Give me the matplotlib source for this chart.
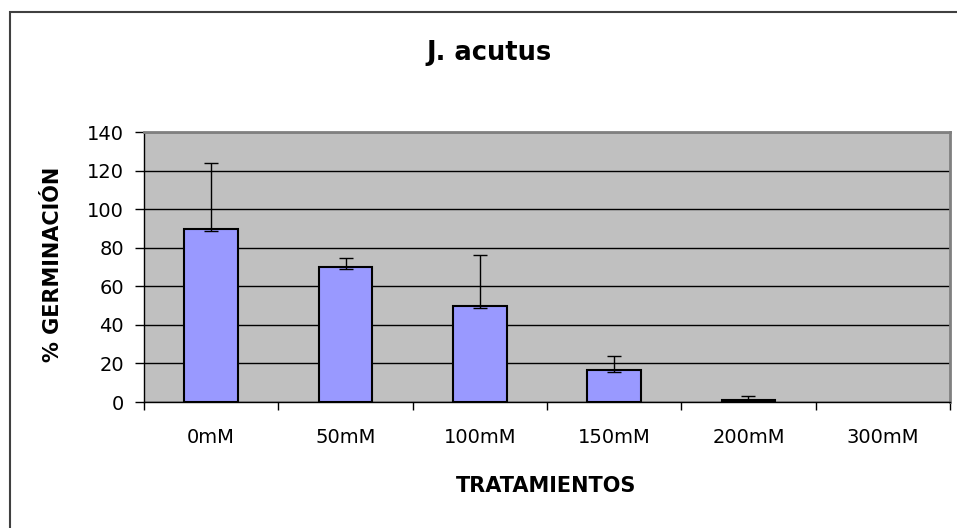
import matplotlib
matplotlib.use("Agg")
import matplotlib.pyplot as plt
from matplotlib.patches import Rectangle
import numpy as np

categories = ["0mM", "50mM", "100mM", "150mM", "200mM", "300mM"]
values = [89.5, 69.8, 50.0, 16.7, 1.2, 0.0]
err_plus = [34.4, 5.0, 26.0, 7.3, 1.9, 0.0]
err_minus = [1.0, 1.0, 1.0, 1.0, 0.0, 0.0]
yticks = [0, 20, 40, 60, 80, 100, 120, 140]

plt.rcParams['font.family'] = ['DejaVu Sans']

W, H = 957, 528
fig = plt.figure(figsize=(W / 100, H / 100), dpi=100)
fig.patch.set_facecolor('white')

# outer chart frame
fig.patches.append(Rectangle((10 / W, -0.1), 2, (H - 12) / H + 0.1,
                             transform=fig.transFigure, fill=False,
                             edgecolor='#404040', linewidth=1.5, zorder=0))

left, right, top, bottom = 144, 950, 132, 402
ax = fig.add_axes([left / W, 1 - bottom / H, (right - left) / W, (bottom - top) / H])
ax.set_facecolor('#c0c0c0')

x = np.arange(len(categories))
edge = ['black' if v > 0 else 'none' for v in values]
ax.bar(x, values, width=0.4, color='#9999ff', edgecolor=edge, linewidth=1.5, zorder=3)
ax.errorbar(x[:5], values[:5], yerr=[err_minus[:5], err_plus[:5]], fmt='none',
            ecolor='black', elinewidth=1, capsize=5, capthick=1, zorder=4)

ax.set_xlim(-0.5, len(categories) - 0.5)
ax.set_ylim(0, 140)
ax.set_yticks(yticks)
ax.set_yticklabels([str(v) for v in yticks], fontsize=14)
ax.yaxis.grid(True, color='black', linewidth=1)
ax.set_axisbelow(True)

ax.set_xticks(x)
ax.set_xticklabels(categories, fontsize=14)
ax.tick_params(axis='x', length=0, pad=19)
ax.set_xticks(np.arange(len(categories) + 1) - 0.5, minor=True)
ax.tick_params(axis='x', which='minor', length=6, width=1, color='black')
ax.tick_params(axis='y', length=6.5, width=1, color='black', pad=8)

for s in ['top', 'right']:
    ax.spines[s].set_color('#808080')
    ax.spines[s].set_linewidth(2)
for s in ['left', 'bottom']:
    ax.spines[s].set_color('black')
    ax.spines[s].set_linewidth(1)

fig.text(489 / W, 1 - 53 / H, "J. acutus", fontsize=18.5, fontweight='bold',
         ha='center', va='center')
fig.text(546 / W, 1 - 486 / H, "TRATAMIENTOS", fontsize=15, fontweight='bold',
         ha='center', va='center')
fig.text(53 / W, 1 - 264 / H, "% GERMINACIÓN", fontsize=15, fontweight='bold',
         ha='center', va='center', rotation=90)

fig.savefig("out.png", dpi=100)
